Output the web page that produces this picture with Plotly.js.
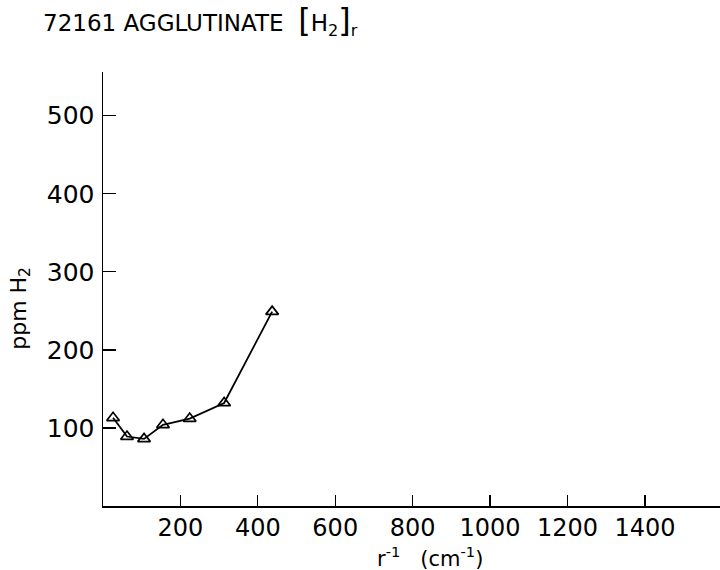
<!DOCTYPE html>
<html>
<head>
<meta charset="utf-8">
<script src="https://cdn.plot.ly/plotly-3.0.1.min.js"></script>
<style>html,body{margin:0;padding:0;background:#fff;}#chart{width:720px;height:570px;}</style>
</head>
<body>
<div id="chart"></div>
<script>
// Data
const rInv = [26, 62, 106, 155, 224, 313, 437];          // r^-1 (cm^-1)
const ppmH2 = [113, 89, 86, 104, 112, 132, 249];        // ppm H2
const xTicks = [200, 400, 600, 800, 1000, 1200, 1400];
const yTicks = [100, 200, 300, 400, 500];

const FONT = 'DejaVu Sans, sans-serif';

const trace = {
  x: rInv, y: ppmH2, type: 'scatter', mode: 'lines+markers',
  line: {color: '#000', width: 1.8},
  marker: {symbol: 'triangle-up-open', size: 11, color: '#000', line: {width: 1.7, color: '#000'}},
  cliponaxis: false, showlegend: false
};

const layout = {
  width: 720, height: 570,
  margin: {l: 103, r: 0, t: 72, b: 64},
  paper_bgcolor: '#fff', plot_bgcolor: '#fff',
  font: {family: FONT, color: '#000', size: 24},
  xaxis: {
    range: [0, 1594], tickvals: xTicks, ticktext: xTicks.map(String),
    ticks: 'inside', ticklen: 11, tickwidth: 1.3, tickcolor: '#000',
    showline: true, linecolor: '#000', linewidth: 1.5,
    showgrid: false, zeroline: false, tickfont: {size: 24}, ticklabelstandoff: 0
  },
  yaxis: {
    range: [0, 556], tickvals: yTicks, ticktext: yTicks.map(String),
    ticks: 'inside', ticklen: 13, tickwidth: 1.3, tickcolor: '#000',
    showline: true, linecolor: '#000', linewidth: 1.5,
    showgrid: false, zeroline: false, tickfont: {size: 25}, ticklabelstandoff: 2
  },
  annotations: [
    {xref: 'paper', yref: 'paper', x: -0.101, y: 1.068, xanchor: 'left', yanchor: 'bottom', showarrow: false,
     text: '72161 AGGLUTINATE  <span style="font-size:32px">[</span>H<sub>2</sub><span style="font-size:32px">]</span><sub>r</sub>',
     font: {size: 23}},
    {xref: 'paper', yref: 'paper', x: -0.135, y: 0.456, xanchor: 'center', yanchor: 'middle', showarrow: false,
     textangle: -90, text: 'ppm H<sub>2</sub>', font: {size: 22}},
    {xref: 'paper', yref: 'paper', x: 0.53, y: -0.081, xanchor: 'center', yanchor: 'top', showarrow: false,
     text: 'r<sup>-1</sup>   (cm<sup>-1</sup>)', font: {size: 21}}
  ]
};

Plotly.newPlot('chart', [trace], layout, {displayModeBar: false, staticPlot: true});
</script>
</body>
</html>
